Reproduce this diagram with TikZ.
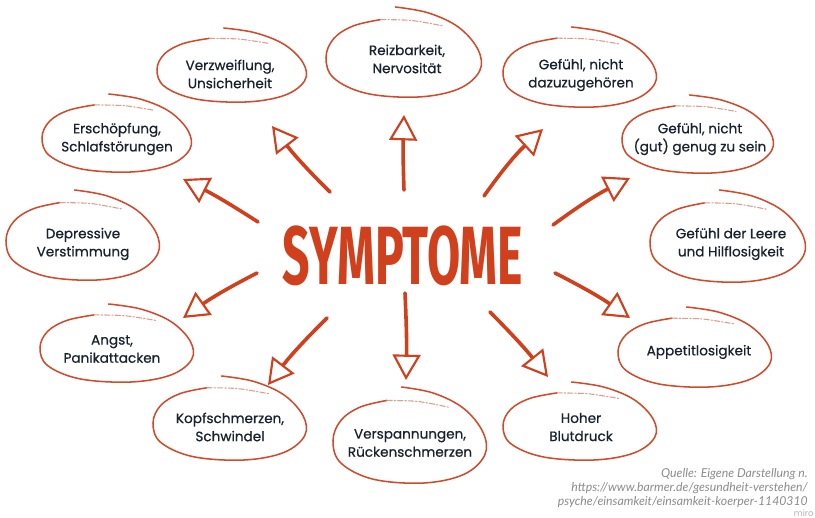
\documentclass[tikz,border=0pt]{standalone}
\usepackage{graphicx}
\usepackage{fontspec}
\setmainfont{Poppins}
\newfontfamily\lblfont{Poppins}[FakeBold=0.6]
\newfontfamily\titlefont{Fira Sans}
\newfontfamily\footfont{Lato}
\usetikzlibrary{arrows.meta}
\definecolor{bubred}{HTML}{D04A2C}
\definecolor{arrred}{HTML}{D0401C}
\definecolor{txtdark}{HTML}{18222F}
\definecolor{footgray}{HTML}{8C8C8C}
\tikzset{
  bubline/.style={draw=bubred, line width=1.15pt, line cap=round},
  bubfaint/.style={draw=bubred!55, line width=0.8pt, dash pattern=on 4pt off 1.5pt on 1pt off 1.5pt, line cap=round},
  lbl/.style={align=center, text=txtdark, font=\lblfont\fontsize{10.2}{13.6}\selectfont, inner sep=0pt},
  arr/.style={draw=arrred, line width=2.7pt, line cap=round,
    -{Triangle[open, length=19pt, width=21pt, line width=1.6pt]}},
  foot/.style={align=right, text=footgray, font=\footfont\itshape\fontsize{9.2}{10.6}\selectfont, inner sep=0pt}
}
% #1 node, #2 #3 offset, #4 rx, #5 ry (pixels)
\newcommand\bubbleloop[5]{%
  \begin{scope}[shift={(#1.center)}, shift={(#2,#3)}, x={(#4*0.75pt,0pt)}, y={(0pt,-#5*0.75pt)}]
    \draw[bubline] plot[smooth, tension=0.6] coordinates {(-0.11,-1.0) (0.31,-0.87) (0.70,-0.55) (0.95,-0.05) (0.97,0.42) (0.70,0.82) (0.18,1.0) (-0.48,0.92) (-0.9,0.58) (-1.0,0.12) (-0.9,-0.3) (-0.65,-0.58) (-0.3,-0.72)};
    \draw[bubfaint] plot[smooth] coordinates {(-0.3,-0.72) (0.1,-0.7) (0.5,-0.58)};
  \end{scope}}
\begin{document}
\begin{tikzpicture}[x=0.75pt, y=-0.75pt]
\useasboundingbox (0,0) rectangle (815,518);
\fill[white] (0,0) rectangle (815,518);

% labels
\node[lbl] (b1) at (230,74) {Verzweiflung,\\Unsicherheit};
\node[lbl] (b2) at (407,59) {Reizbarkeit,\\Nervosität};
\node[lbl] (b3) at (581,75) {Gefühl, nicht\\dazuzugehören};
\node[lbl] (b4) at (117,139) {Erschöpfung,\\Schlafstörungen};
\node[lbl] (b5) at (700,139) {Gefühl, nicht\\(gut) genug zu sein};
\node[lbl] (b6) at (83,244) {Depressive\\Verstimmung};
\node[lbl] (b7) at (731,244) {Gefühl der Leere\\und Hilflosigkeit};
\node[lbl] (b8) at (112,349) {Angst,\\Panikattacken};
\node[lbl] (b9) at (699,352) {Appetitlosigkeit};
\node[lbl] (b10) at (230,427) {Kopfschmerzen,\\Schwindel};
\node[lbl] (b11) at (410,443) {Verspannungen,\\Rückenschmerzen};
\node[lbl] (b12) at (581,427) {Hoher\\Blutdruck};

% bubbles
\bubbleloop{b1}{2}{-9}{75}{37}
\bubbleloop{b2}{-3}{-7}{78}{45}
\bubbleloop{b3}{-1}{-8}{77}{40}
\bubbleloop{b4}{0}{-6}{75}{39}
\bubbleloop{b5}{-2}{-5}{76}{39}
\bubbleloop{b6}{0}{-9}{77}{45}
\bubbleloop{b7}{-3}{-8}{78}{46}
\bubbleloop{b8}{5}{-6}{77}{39}
\bubbleloop{b9}{-4}{-5}{77}{40}
\bubbleloop{b10}{0}{-9}{77}{42}
\bubbleloop{b11}{0}{-8}{77}{48}
\bubbleloop{b12}{-1}{-6}{77}{39}

% title
\node[text=arrred, inner sep=0pt] (title) at (403,256) {\resizebox{180pt}{44pt}{\titlefont\bfseries SYMPTOME}};

% arrow ends
\coordinate (s1) at (330,192); \coordinate (e1) at (272,126);
\coordinate (s2) at (404,190); \coordinate (e2) at (404,115);
\coordinate (s3) at (484,196); \coordinate (e3) at (543,129);
\coordinate (s4) at (553,225); \coordinate (e4) at (630,178);
\coordinate (s5) at (555,273); \coordinate (e5) at (630,318);
\coordinate (s6) at (490,312); \coordinate (e6) at (548,377);
\coordinate (s7) at (405,293); \coordinate (e7) at (406,380);
\coordinate (s8) at (327,318); \coordinate (e8) at (268,385);
\coordinate (s9) at (257,273); \coordinate (e9) at (183,318);
\coordinate (s10) at (258,222); \coordinate (e10) at (183,179);

\draw[arr] (s1) to[bend left=4] (e1);
\draw[arr] (s2) to[bend left=2] (e2);
\draw[arr] (s3) to[bend left=6] (e3);
\draw[arr] (s4) to[bend left=5] (e4);
\draw[arr] (s5) to[bend left=4] (e5);
\draw[arr] (s6) to[bend left=3] (e6);
\draw[arr] (s7) to[bend left=2] (e7);
\draw[arr] (s8) to[bend right=4] (e8);
\draw[arr] (s9) to[bend right=4] (e9);
\draw[arr] (s10) to[bend right=3] (e10);

% source
\node[foot, anchor=north east] (src) at (808,468) {Quelle: Eigene Darstellung n.\\https://www.barmer.de/gesundheit-verstehen/\\psyche/einsamkeit/einsamkeit-koerper-1140310};
\node[text=black!30, font=\fontsize{6.5}{6.5}\selectfont, inner sep=0pt, anchor=base east] (wm) at (814,516) {miro};
\end{tikzpicture}
\end{document}
